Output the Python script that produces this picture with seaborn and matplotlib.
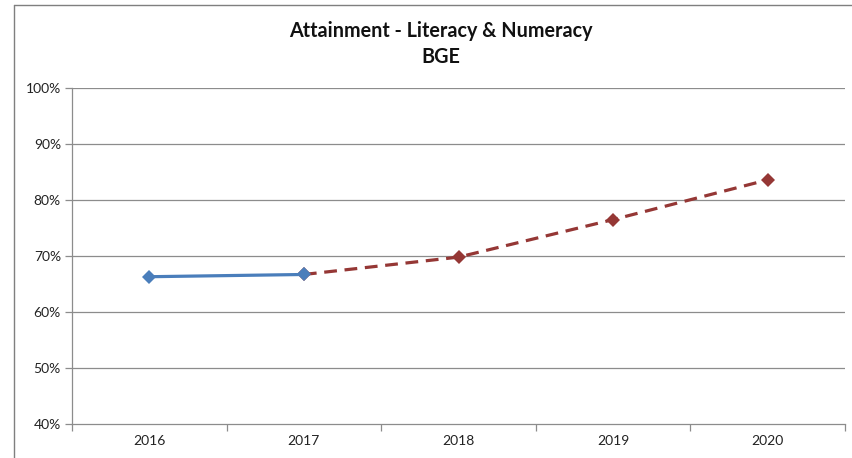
import matplotlib
matplotlib.use("Agg")
import matplotlib.pyplot as plt
from matplotlib.lines import Line2D
from matplotlib.ticker import FuncFormatter
import seaborn as sns
import pandas as pd

# Attainment data (percent)
years = ["2016", "2017", "2018", "2019", "2020"]
actual_years = ["2016", "2017"]
actual_values = [66.3, 66.7]
target_years = ["2017", "2018", "2019", "2020"]
target_values = [66.7, 69.8, 76.5, 83.6]
y_ticks = [40, 50, 60, 70, 80, 90, 100]

sns.set_theme(style="white")
plt.rcParams["font.family"] = ["Lato", "DejaVu Sans"]

pos = {y: i for i, y in enumerate(years)}
actual = pd.DataFrame({"x": [pos[y] for y in actual_years], "value": actual_values})
target = pd.DataFrame({"x": [pos[y] for y in target_years], "value": target_values})

fig = plt.figure(figsize=(8.53, 4.58), dpi=100)
ax = fig.add_axes([72 / 853, 1 - 424 / 458, (845 - 72) / 853, (424 - 88) / 458])

grid_color = "#8c8c8c"
for v in y_ticks[1:]:
    ax.axhline(v, color=grid_color, lw=0.9, zorder=0)

sns.lineplot(data=target, x="x", y="value", ax=ax, color="#953735", lw=2.3,
             marker="D", markersize=7.5, markeredgewidth=0,
             linestyle=(0, (4.0, 2.4)), zorder=3)
sns.lineplot(data=actual, x="x", y="value", ax=ax, color="#4a7ebb", lw=2.3,
             marker="D", markersize=7.5, markeredgewidth=0, zorder=4)

ax.set_xlim(-0.5, len(years) - 0.5)
ax.set_ylim(40, 100)
ax.set_yticks(y_ticks)
ax.yaxis.set_major_formatter(FuncFormatter(lambda v, _: f"{v:.0f}%"))

# category boundaries carry tick marks, labels sit between them
ax.set_xticks([i - 0.5 for i in range(len(years) + 1)])
ax.set_xticklabels([])
ax.set_xticks(range(len(years)), minor=True)
ax.set_xticklabels(years, minor=True)
ax.tick_params(axis="x", which="major", direction="out", length=5, width=0.9, color=grid_color, bottom=True)
ax.tick_params(axis="x", which="minor", length=0, pad=8, labelsize=10, labelcolor="#222222")
ax.tick_params(axis="y", direction="out", length=5, width=0.9, color=grid_color, left=True, pad=3,
               labelsize=10, labelcolor="#222222")

ax.set_xlabel("")
ax.set_ylabel("")
for side in ["top", "right"]:
    ax.spines[side].set_visible(False)
for side in ["left", "bottom"]:
    ax.spines[side].set_color(grid_color)
    ax.spines[side].set_linewidth(0.9)

# chart frame
frame_color = "#7f7f7f"
fig.add_artist(Line2D([14 / 853, 1.0], [1 - 5 / 458, 1 - 5 / 458], color=frame_color, lw=1.0))
fig.add_artist(Line2D([14 / 853, 14 / 853], [0.0, 1 - 5 / 458], color=frame_color, lw=1.0))

fig.text(441 / 853, 1 - 31 / 458, "Attainment - Literacy & Numeracy", ha="center", va="center",
         fontsize=14.2, fontweight="bold", color="#111111")
fig.text(441 / 853, 1 - 57 / 458, "BGE", ha="center", va="center",
         fontsize=14.2, fontweight="bold", color="#111111")

fig.savefig("out.png", dpi=100, facecolor="white")
